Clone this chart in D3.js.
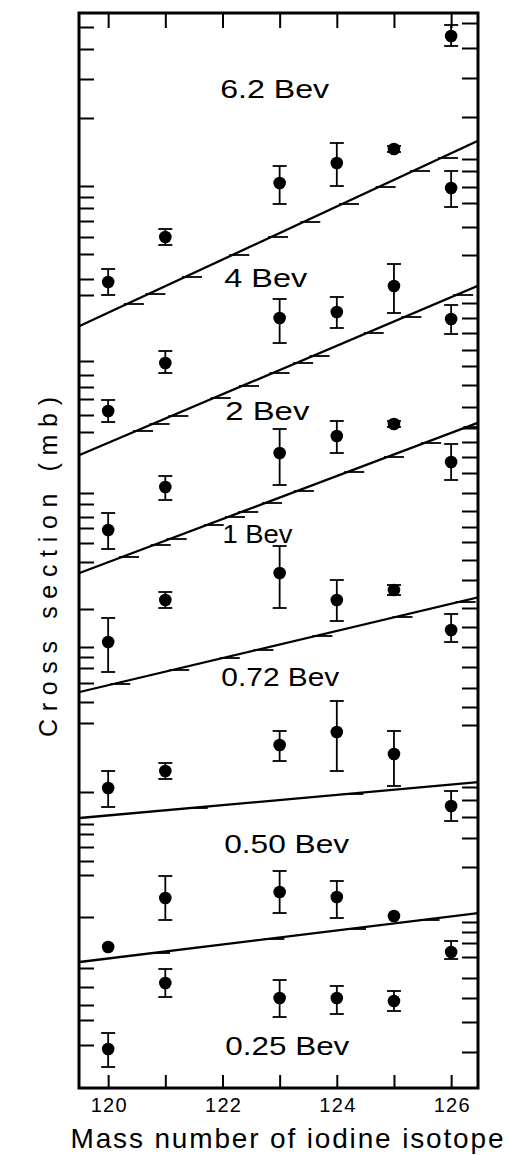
<!DOCTYPE html>
<html>
<head>
<meta charset="utf-8">
<script src="https://cdn.jsdelivr.net/npm/d3@7"></script>
<style>
  body { margin: 0; background: #fff; }
  text { font-family: "Liberation Sans", Arial, sans-serif; fill: #000; }
</style>
</head>
<body>
<svg id="chart" width="510" height="1155"></svg>
<script>
// isotopes measured
var masses = [120, 121, 123, 124, 125, 126];
var energies = ["6.2 Bev", "4 Bev", "2 Bev", "1 Bev", "0.72 Bev", "0.50 Bev", "0.25 Bev"];

// relative log cross section, arbitrary units (each energy shifted vertically)
var sigma62  = [806, 851, 905, 925, 939, 1052];
var lo62     = [793, 843, 884, 902, 936, 1042];
var hi62     = [819, 859, 922, 945, 942, 1063];
var sigma4   = [677, 725, 770, 776, 802, 900];
var lo4      = [666, 715, 745, 760, 775, 881];
var hi4      = [688, 737, 789, 791, 824, 917];
var sigma2   = [558, 601, 635, 652, 664, 769];
var lo2      = [539, 588, 603, 635, 661, 754];
var hi2      = [575, 612, 659, 667, 667, 783];
var sigma1   = [446, 488, 515, 488, 498, 626];
var lo1      = [416, 480, 480, 467, 493, 608];
var hi1      = [470, 496, 542, 508, 503, 644];
var sigma072 = [300, 317, 343, 356, 334, 458];
var lo072    = [281, 309, 327, 317, 302, 446];
var hi072    = [317, 325, 357, 387, 357, 474];
var sigma050 = [141, 190, 196, 191, 172, 282];
var lo050    = [null, 168, 175, 170, null, 267];
var hi050    = [null, 212, 217, 207, null, 297];
var sigma025 = [39, 105, 90, 90, 87, 136];
var lo025    = [21, 91, 71, 74, 77, 129];
var hi025    = [55, 119, 108, 102, 97, 147];

// reference lines, value at mass 119.5 and at 126.5
var lineMass  = [119.5, 126.5];
var lineLeft  = [762, 633, 515, 396, 270, 126];
var lineRight = [948, 803, 666, 491, 306, 175];
// levels where the reference lines carry a small step mark
var stepsA = [784, 794, 811, 833, 851, 866, 884, 901, 917, 930];
var stepsB = [657, 664, 672, 690, 702, 715, 725, 732, 755, 771, 793];
var stepsC = [531, 543, 549, 563, 571, 576, 585, 597, 616, 631, 645, 661];
var stepsD = [404, 418, 430, 438, 452, 471, 486];
var stepsE = [280, 294];
var stepsF = [135, 149, 159, 168];

// unlabelled log ticks on both sides of the frame
var leftTicks = [1061, 1039, 1009, 970, 902, 891, 880, 867, 851, 834, 809, 793, 727, 713, 701, 689,
  673, 656, 595, 584, 571, 560, 545, 526, 479, 441, 431, 420, 405, 386, 365, 296, 264, 254, 241,
  227, 213, 171, 120, 101, 83, 68, 43];
var rightTicks = [1065, 1040, 1010, 971, 929, 917, 901, 885, 861, 833, 785, 770, 755, 738, 722, 703,
  681, 660, 646, 631, 615, 595, 577, 561, 546, 528, 508, 480, 461, 441, 421, 400, 381, 363, 301,
  288, 271, 250, 221, 166, 156, 145, 131, 110, 90, 66, 36];
var xTicks = [120, 121, 122, 123, 124, 125, 126];
var xLabels = [120, 122, 124, 126];

var series = [
  {c: sigma62, lo: lo62, hi: hi62},
  {c: sigma4, lo: lo4, hi: hi4},
  {c: sigma2, lo: lo2, hi: hi2},
  {c: sigma1, lo: lo1, hi: hi1},
  {c: sigma072, lo: lo072, hi: hi072},
  {c: sigma050, lo: lo050, hi: hi050},
  {c: sigma025, lo: lo025, hi: hi025}
];
var steps = [stepsA, stepsB, stepsC, stepsD, stepsE, stepsF];

var margin = {top: 13, right: 32, bottom: 67, left: 79},
    width = 510 - margin.left - margin.right,
    height = 1155 - margin.top - margin.bottom;

var svg = d3.select("#chart");
var g = svg.append("g")
  .attr("transform", "translate(" + margin.left + "," + margin.top + ")");

var x = d3.scaleLinear().domain([119.49, 126.47]).range([0, width]);
var y = d3.scaleLinear().domain([0, 1075]).range([height, 0]);

g.append("clipPath").attr("id", "frame")
  .append("rect").attr("width", width).attr("height", height);

// axes: ticks point inward
function styleAxis(sel) {
  sel.select(".domain").remove();
  sel.selectAll(".tick line").attr("stroke", "#000").attr("stroke-width", 2);
}
g.append("g").call(d3.axisLeft(y).tickValues(leftTicks).tickSize(-15).tickFormat("")).call(styleAxis);
g.append("g").attr("transform", "translate(" + width + ",0)")
  .call(d3.axisRight(y).tickValues(rightTicks).tickSize(-16).tickFormat("")).call(styleAxis);
g.append("g").call(d3.axisTop(x).tickValues(xTicks).tickSize(-15).tickFormat("")).call(styleAxis);

var bottom = g.append("g").attr("transform", "translate(0," + height + ")")
  .call(d3.axisBottom(x).tickValues(xTicks).tickSize(-13).tickPadding(10)
    .tickFormat(function(d) { return xLabels.indexOf(d) >= 0 ? d : ""; }))
  .call(styleAxis);
bottom.selectAll("text")
  .style("font-family", "Liberation Sans, Arial, sans-serif")
  .style("font-size", "20px")
  .attr("fill", "#000")
  .attr("textLength", 36);

// reference lines with step marks
var plot = g.append("g").attr("clip-path", "url(#frame)");
lineLeft.forEach(function(v0, i) {
  var v1 = lineRight[i];
  plot.append("line")
    .attr("x1", x(lineMass[0])).attr("y1", y(v0))
    .attr("x2", x(lineMass[1])).attr("y2", y(v1))
    .attr("stroke", "#000").attr("stroke-width", 2.3);
  steps[i].forEach(function(v) {
    var m = lineMass[0] + (v - v0) / (v1 - v0) * (lineMass[1] - lineMass[0]);
    plot.append("line")
      .attr("x1", x(m) - 3).attr("x2", x(m) + 17)
      .attr("y1", y(v)).attr("y2", y(v))
      .attr("stroke", "#000").attr("stroke-width", 1.8);
  });
});

// data points with error bars
var capW = 7;
series.forEach(function(s) {
  masses.forEach(function(m, j) {
    if (s.lo[j] != null) {
      var eb = plot.append("g").attr("stroke", "#000").attr("stroke-width", 1.8);
      eb.append("line").attr("x1", x(m)).attr("x2", x(m)).attr("y1", y(s.lo[j])).attr("y2", y(s.hi[j]));
      eb.append("line").attr("x1", x(m) - capW).attr("x2", x(m) + capW).attr("y1", y(s.lo[j])).attr("y2", y(s.lo[j]));
      eb.append("line").attr("x1", x(m) - capW).attr("x2", x(m) + capW).attr("y1", y(s.hi[j])).attr("y2", y(s.hi[j]));
    }
    plot.append("circle").attr("cx", x(m)).attr("cy", y(s.c[j])).attr("r", 6.3).attr("fill", "#000");
  });
});

// energy labels (start mass, baseline level, width)
var labelPos = [[121.96, 990, 109], [122.03, 801, 83], [122.05, 668, 84], [122.0, 545, 70],
  [121.98, 402, 118], [122.03, 235, 125], [122.05, 33, 124]];
energies.forEach(function(t, i) {
  g.append("text")
    .attr("x", x(labelPos[i][0])).attr("y", y(labelPos[i][1]))
    .attr("textLength", labelPos[i][2]).attr("lengthAdjust", "spacingAndGlyphs")
    .style("font-size", "26px")
    .text(t);
});

// frame
g.append("rect").attr("width", width).attr("height", height)
  .attr("fill", "none").attr("stroke", "#000").attr("stroke-width", 3);

// axis titles
svg.append("text")
  .attr("x", 287).attr("y", 1148)
  .attr("text-anchor", "middle")
  .attr("textLength", 433).attr("lengthAdjust", "spacing")
  .style("font-size", "28px")
  .text("Mass number of iodine isotope");

svg.append("text")
  .attr("transform", "translate(57,567) rotate(-90)")
  .attr("text-anchor", "middle")
  .attr("textLength", 340).attr("lengthAdjust", "spacing")
  .style("font-size", "25px")
  .text("Cross section (mb)");
</script>
</body>
</html>
